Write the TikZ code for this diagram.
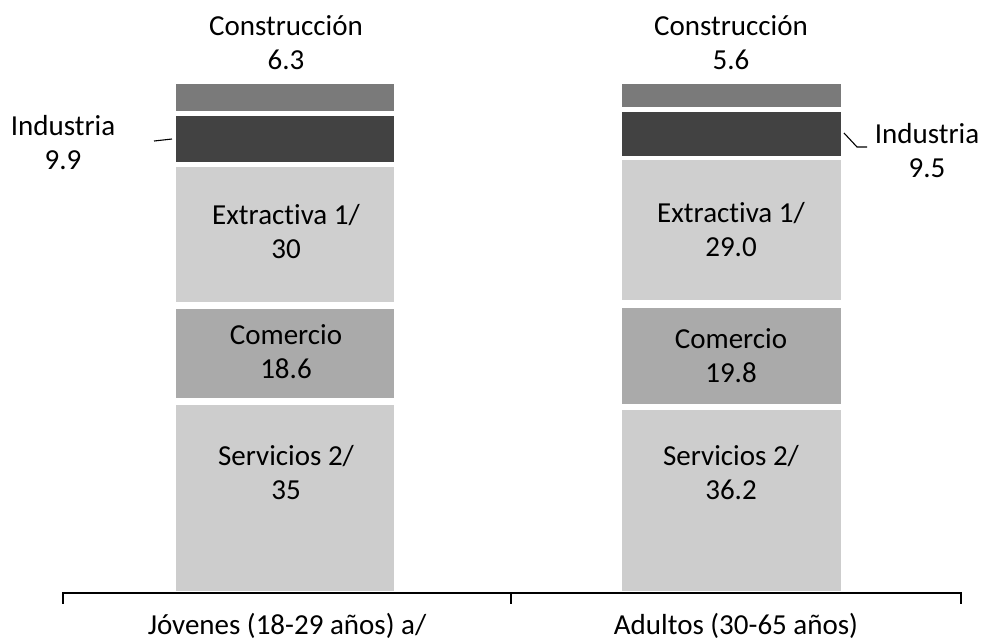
\documentclass[tikz,border=0pt]{standalone}
\usepackage{fontspec}
\setmainfont[Ligatures=NoCommon]{Carlito}
\definecolor{cconst}{HTML}{7A7A7A}
\definecolor{cind}{HTML}{424242}
\definecolor{cext}{HTML}{CFCFCF}
\definecolor{ccom}{HTML}{AAAAAA}
\definecolor{cserv}{HTML}{CDCDCD}
\begin{document}
\begin{tikzpicture}[x=1pt,y=-1pt,
  seg/.style={anchor=north west,inner sep=0pt,outer sep=0pt,draw=none,minimum width=#1},
  lbl/.style={align=center,font=\fontsize{29}{34}\selectfont,inner sep=0pt},
  ax/.style={line width=1.6pt,line cap=rect},
  leader/.style={line width=1.1pt}]
\useasboundingbox (0,0) rectangle (983,641);
% left bar segments
\node[seg=218pt,minimum height=27pt,fill=cconst] (Lc) at (176,84) {};
\node[seg=218pt,minimum height=46pt,fill=cind] (Li) at (176,116) {};
\node[seg=218pt,minimum height=135pt,fill=cext] (Le) at (176,167) {};
\node[seg=218pt,minimum height=89pt,fill=ccom] (Lm) at (176,309) {};
\node[seg=218pt,minimum height=186pt,fill=cserv] (Ls) at (176,405) {};
% right bar segments
\node[seg=219pt,minimum height=23pt,fill=cconst] (Rc) at (622,84) {};
\node[seg=219pt,minimum height=44pt,fill=cind] (Ri) at (622,112) {};
\node[seg=219pt,minimum height=140pt,fill=cext] (Re) at (622,160) {};
\node[seg=219pt,minimum height=96pt,fill=ccom] (Rm) at (622,308) {};
\node[seg=219pt,minimum height=181pt,fill=cserv] (Rs) at (622,410) {};
% labels left
\node[lbl] (tLc) at (286,43) {Construcción\\6.3};
\node[lbl] (tLi) at (63,143) {Industria\\9.9};
\node[lbl] (tLe) at (286,232) {Extractiva 1/\\30};
\node[lbl] (tLm) at (286,352) {Comercio\\18.6};
\node[lbl] (tLs) at (286,473) {Servicios 2/\\35};
% labels right
\node[lbl] (tRc) at (731,43) {Construcción\\5.6};
\node[lbl] (tRi) at (927,151) {Industria\\9.5};
\node[lbl] (tRe) at (731,230) {Extractiva 1/\\29.0};
\node[lbl] (tRm) at (731,356) {Comercio\\19.8};
\node[lbl] (tRs) at (731,473) {Servicios 2/\\36.2};
% leaders
\coordinate (lA) at (154,141);
\coordinate (lB) at (172,139);
\draw[leader] (lA) -- (lB);
\coordinate (rA) at (844,133);
\coordinate (rB) at (857,147);
\coordinate (rC) at (867,147);
\draw[leader] (rA) -- (rB) -- (rC);
% axis
\coordinate (a0) at (63,593);
\coordinate (a1) at (511,593);
\coordinate (a2) at (961,593);
\draw[ax] (a0) -- (a2);
\draw[ax] (a0) -- ++(0,10);
\draw[ax] (a1) -- ++(0,10);
\draw[ax] (a2) -- ++(0,10);
\node[lbl] (xL) at (287,626) {Jóvenes (18-29 años) a/};
\node[lbl] (xR) at (736,626) {Adultos (30-65 años)};
\end{tikzpicture}
\end{document}
